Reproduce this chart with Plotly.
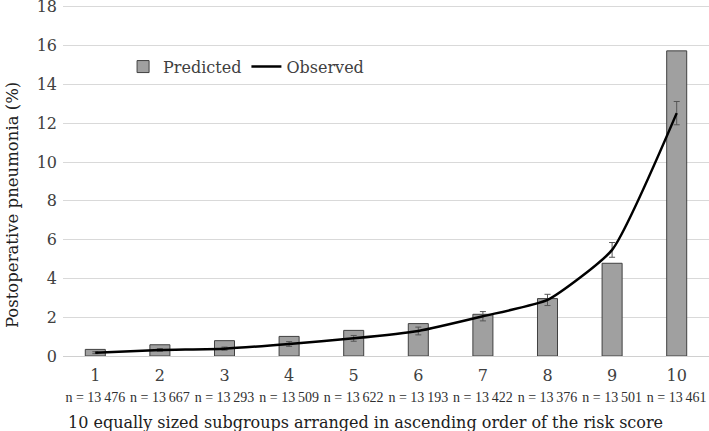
import plotly.graph_objects as go

categories = ["1", "2", "3", "4", "5", "6", "7", "8", "9", "10"]
n_labels = ["n = 13 476", "n = 13 667", "n = 13 293", "n = 13 509", "n = 13 622",
            "n = 13 193", "n = 13 422", "n = 13 376", "n = 13 501", "n = 13 461"]
predicted = [0.34, 0.58, 0.79, 1.01, 1.32, 1.67, 2.15, 2.96, 4.78, 15.73]
observed = [0.17, 0.31, 0.38, 0.62, 0.91, 1.29, 2.05, 2.89, 5.47, 12.52]
obs_err = [0.05, 0.07, 0.08, 0.12, 0.15, 0.20, 0.24, 0.29, 0.38, 0.60]
y_ticks = [0, 2, 4, 6, 8, 10, 12, 14, 16, 18]
x_title = "10 equally sized subgroups arranged in ascending order of the risk score"
y_title = "Postoperative pneumonia (%)"

FONT = "DejaVu Serif"


def narrow(s):
    # thousands separator shown as a narrow space, as in the reference
    head, num = s.split(" = ")
    return head + " = " + num.replace(" ", "\u202f")


ticktext = [f"{c}<br><span style='font-size:14px;font-family:Liberation Serif;color:#303030'>{narrow(n)}</span>"
            for c, n in zip(categories, n_labels)]

fig = go.Figure()
fig.add_trace(go.Bar(
    x=categories, y=predicted, name="Predicted", width=0.31,
    marker=dict(color="#a0a0a0", line=dict(color="#404040", width=1)),
))
fig.add_trace(go.Scatter(
    x=categories, y=observed, name="Observed", mode="lines",
    line=dict(color="black", width=2.5, shape="spline", smoothing=0.5),
    error_y=dict(type="data", array=obs_err, color="#555555", thickness=1, width=3),
))
fig.update_layout(
    width=709, height=431,
    margin=dict(l=63, r=0, t=1, b=75, autoexpand=False),
    plot_bgcolor="white", paper_bgcolor="white",
    font=dict(family=FONT, color="#404040", size=16),
    showlegend=True,
    legend=dict(orientation="h", x=0.093, y=0.815, yanchor="middle", xanchor="left",
                font=dict(size=16, color="#404040"), bgcolor="rgba(0,0,0,0)",
                itemwidth=30, tracegroupgap=0),
    xaxis=dict(tickmode="array", tickvals=categories, ticktext=ticktext,
               showgrid=False, showline=False, ticks="", automargin=False,
               tickfont=dict(size=16), ticklabelstandoff=8),
    yaxis=dict(range=[0, 18.3], tickvals=y_ticks, showgrid=True, gridcolor="#d9d9d9",
               gridwidth=1, zeroline=True, zerolinecolor="#d0d0d0", zerolinewidth=1,
               ticks="", tickfont=dict(size=16), automargin=False, ticklabelstandoff=5,
               ticklabeloverflow="allow"),
    annotations=[
        dict(text=x_title, xref="paper", yref="paper", x=0.4675, y=-0.186,
             xanchor="center", yanchor="middle", showarrow=False,
             font=dict(size=16, color="#202020")),
        dict(text=y_title, xref="paper", yref="paper", x=-0.079, y=0.425,
             xanchor="center", yanchor="middle", showarrow=False, textangle=-90,
             font=dict(size=16.5, color="#202020")),
    ],
)
fig.write_html("out.html", config={"displayModeBar": False},
               post_script="document.body.style.margin='0';")
